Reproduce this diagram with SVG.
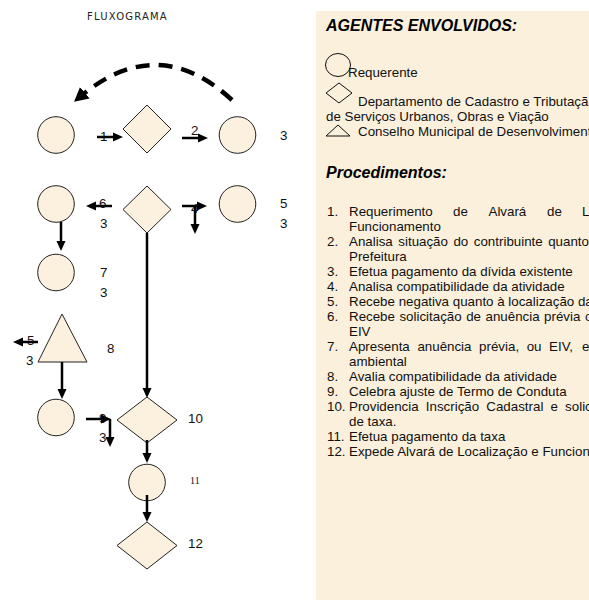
<svg xmlns="http://www.w3.org/2000/svg" width="589" height="615" viewBox="0 0 589 615">
<defs>
<style>
.nd{fill:#FBF1DE;stroke:#222;stroke-width:1}
.lg{fill:none;stroke:#111;stroke-width:1}
.ar{stroke:#000;stroke-width:2.5;fill:none;marker-end:url(#ah)}
.t{font-family:"Liberation Sans",Arial,sans-serif;font-size:13.33px;fill:#111}
.h{font-family:"Liberation Sans",Arial,sans-serif;font-size:16px;font-weight:bold;font-style:italic;fill:#000}
.s{font-family:"Liberation Serif","Times New Roman",serif;font-size:10px;fill:#111}
.ti{font-family:"DejaVu Sans",Verdana,sans-serif;font-size:10px;letter-spacing:1.2px;fill:#222}
</style>
<marker id="ah" markerUnits="userSpaceOnUse" markerWidth="10" markerHeight="10" refX="4" refY="5" orient="auto"><path d="M0,0.5 L10,5 L0,9.5 z" fill="#000"/></marker>
<marker id="ahd" markerUnits="userSpaceOnUse" markerWidth="14" markerHeight="15" refX="5" refY="7.5" orient="auto"><path d="M0,0 L14,7.5 L0,15 z" fill="#000"/></marker>
</defs>
<rect width="589" height="615" fill="#fff"/>
<text class="ti" x="87" y="20">FLUXOGRAMA</text>

<g id="panel">
<rect x="316" y="11" width="273" height="589" fill="#FAF0DC"/>
<text class="h" x="326" y="31">AGENTES ENVOLVIDOS:</text>
<ellipse class="lg" cx="338" cy="65" rx="12.5" ry="11.5"/>
<text class="t" x="348" y="77">Requerente</text>
<polygon class="lg" points="339,83 352,93 339,103 326,93"/>
<text class="t" x="358" y="106">Departamento de Cadastro e Tributaçã</text>
<text class="t" x="326" y="121">de Serviços Urbanos, Obras e Viação</text>
<polygon class="lg" points="338,125 350,136 326,136"/>
<text class="t" x="358" y="136">Conselho Municipal de Desenvolviment</text>
<text class="h" x="326" y="178">Procedimentos:</text>
<g class="t">
<text x="327" y="216">1.</text>
<text y="216"><tspan x="349">Requerimento</tspan><tspan x="453">de</tspan><tspan x="488.5">Alvará</tspan><tspan x="547">de</tspan><tspan x="582">L</tspan></text>
<text x="349" y="231">Funcionamento</text>
<text x="327" y="246">2.</text>
<text y="246"><tspan x="349">Analisa</tspan><tspan x="398.3">situação</tspan><tspan x="453.4">do</tspan><tspan x="473.8">contribuinte</tspan><tspan x="548.2">quanto</tspan></text>
<text x="349" y="261">Prefeitura</text>
<text x="327" y="276">3.</text>
<text x="349" y="276">Efetua pagamento da dívida existente</text>
<text x="327" y="291">4.</text>
<text x="349" y="291">Analisa compatibilidade da atividade</text>
<text x="327" y="306">5.</text>
<text x="349" y="306">Recebe negativa quanto à localização da</text>
<text x="327" y="321">6.</text>
<text x="349" y="321" word-spacing="0.8">Recebe solicitação de anuência prévia o</text>
<text x="349" y="336">EIV</text>
<text x="327" y="351">7.</text>
<text y="351"><tspan x="349">Apresenta</tspan><tspan x="417.4">anuência</tspan><tspan x="479.1">prévia,</tspan><tspan x="526.7">ou</tspan><tspan x="549.1">EIV,</tspan><tspan x="581.9">e</tspan></text>
<text x="349" y="366">ambiental</text>
<text x="327" y="381">8.</text>
<text x="349" y="381">Avalia compatibilidade da atividade</text>
<text x="327" y="396">9.</text>
<text x="349" y="396">Celebra ajuste de Termo de Conduta</text>
<text x="327" y="411">10.</text>
<text y="411"><tspan x="349">Providencia</tspan><tspan x="425.8">Inscrição</tspan><tspan x="486.3">Cadastral</tspan><tspan x="550.5">e</tspan><tspan x="565.1">solic</tspan></text>
<text x="349" y="426">de taxa.</text>
<text x="327" y="441">11.</text>
<text x="349" y="441">Efetua pagamento da taxa</text>
<text x="327" y="456">12.</text>
<text x="349" y="456">Expede Alvará de Localização e Funcion</text>
</g>
</g>

<g id="n1"><circle class="nd" cx="56" cy="135" r="18.3"/></g>
<g id="n2"><polygon class="nd" points="147,105 171,129 147,153 123,129"/></g>
<g id="n3"><circle class="nd" cx="237.5" cy="135" r="18.3"/></g>
<g id="n6"><circle class="nd" cx="56" cy="204" r="18.3"/></g>
<g id="n4"><polygon class="nd" points="147,186 171,209.5 147,233 123,209.5"/></g>
<g id="n5"><circle class="nd" cx="237.5" cy="204" r="18.3"/></g>
<g id="n7"><circle class="nd" cx="56" cy="272.5" r="18.3"/></g>
<g id="n8"><polygon class="nd" points="62,314 87,362 38,362"/></g>
<g id="n9"><circle class="nd" cx="56" cy="417.5" r="18.3"/></g>
<g id="n10"><polygon class="nd" points="147,397 177,420 147,443 117,420"/></g>
<g id="n11"><circle class="nd" cx="147" cy="482.5" r="18.3"/></g>
<g id="n12"><polygon class="nd" points="147,522 177,545.5 147,569 117,545.5"/></g>

<g id="connectors">
<path d="M232,100 Q158,32 81,96" fill="none" stroke="#000" stroke-width="4.5" stroke-dasharray="14 9" marker-end="url(#ahd)"/>
<line class="ar" x1="97" y1="137" x2="117" y2="137"/>
<line class="ar" x1="182" y1="138" x2="202" y2="138"/>
<line class="ar" x1="112" y1="206" x2="92" y2="206"/>
<line class="ar" x1="182" y1="206" x2="201" y2="206"/>
<line class="ar" x1="195" y1="206" x2="195" y2="228"/>
<line class="ar" x1="61" y1="222" x2="61" y2="245"/>
<line class="ar" x1="147" y1="233" x2="147" y2="392"/>
<line class="ar" x1="38" y1="342" x2="19" y2="342"/>
<line class="ar" x1="62" y1="362" x2="62" y2="393"/>
<line class="ar" x1="86" y1="419" x2="105" y2="419"/>
<line class="ar" x1="110" y1="419" x2="110" y2="441"/>
<line class="ar" x1="147" y1="440" x2="147" y2="457"/>
<line class="ar" x1="147" y1="495" x2="147" y2="516"/>
</g>

<g id="labels" class="t">
<text x="100" y="141">1</text>
<text x="191" y="135">2</text>
<text x="280" y="140">3</text>
<text x="99" y="208">6</text>
<text x="100" y="228">3</text>
<text x="191" y="213">4</text>
<text x="280" y="208">5</text>
<text x="280" y="228">3</text>
<text x="100" y="277">7</text>
<text x="100" y="297">3</text>
<text x="107" y="353">8</text>
<text x="27" y="345">5</text>
<text x="26" y="365">3</text>
<text x="99" y="423">9</text>
<text x="99" y="442">3</text>
<text x="188" y="423">10</text>
<text class="s" x="190" y="484">11</text>
<text x="188" y="548">12</text>
</g>
</svg>
